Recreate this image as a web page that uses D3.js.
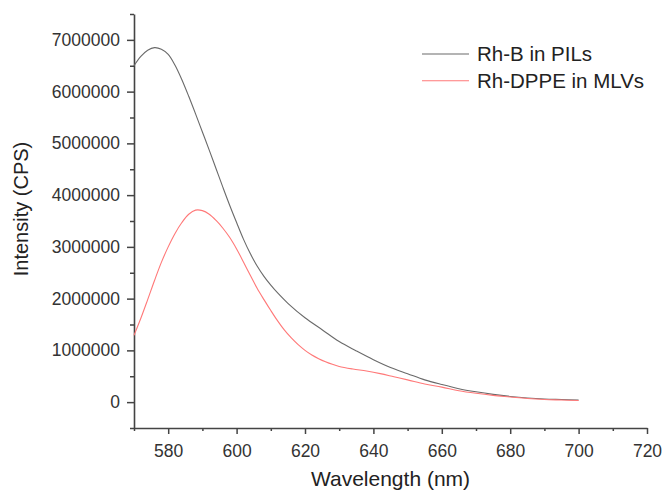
<!DOCTYPE html>
<html>
<head>
<meta charset="utf-8">
<script src="https://cdn.jsdelivr.net/npm/d3@7"></script>
<style>
  html, body { margin: 0; padding: 0; background: #fff; }
  svg { display: block; font-family: "Liberation Sans", Arial, sans-serif; }
</style>
</head>
<body>
<svg id="chart" width="663" height="491"></svg>
<script>
// ---- data ----
const wavelengthsRhB = [570, 572, 574, 576, 578, 580, 582, 584, 586, 588, 590, 592, 594, 596, 598, 600, 602, 604, 606, 608, 610, 612, 615, 620, 625, 630, 635, 640, 645, 650, 655, 660, 665, 670, 675, 680, 685, 690, 695, 700];
const intensityRhB = [6500000, 6680000, 6800000, 6850000, 6820000, 6720000, 6510000, 6230000, 5910000, 5570000, 5220000, 4870000, 4510000, 4150000, 3800000, 3470000, 3150000, 2870000, 2630000, 2430000, 2260000, 2110000, 1910000, 1630000, 1400000, 1170000, 990000, 820000, 670000, 550000, 430000, 340000, 260000, 200000, 150000, 110000, 80000, 60000, 50000, 40000];

const wavelengthsRhDPPE = [570, 572, 574, 576, 578, 580, 582, 584, 586, 588, 590, 592, 594, 596, 598, 600, 602, 604, 606, 608, 610, 612, 614, 616, 618, 620, 622, 624, 626, 628, 630, 634, 638, 642, 646, 650, 655, 660, 665, 670, 675, 680, 685, 690, 695, 700];
const intensityRhDPPE = [1290000, 1620000, 1980000, 2350000, 2700000, 3000000, 3260000, 3470000, 3630000, 3710000, 3700000, 3630000, 3510000, 3360000, 3180000, 2960000, 2710000, 2450000, 2200000, 1980000, 1770000, 1570000, 1390000, 1240000, 1110000, 1000000, 910000, 840000, 780000, 730000, 690000, 640000, 600000, 550000, 490000, 430000, 350000, 290000, 220000, 170000, 130000, 100000, 70000, 50000, 40000, 30000];

const seriesNames = ["Rh-B in PILs", "Rh-DPPE in MLVs"];
const seriesColors = ["#6a6a6a", "#ff7878"];

const xMajorTicks = [580, 600, 620, 640, 660, 680, 700, 720];
const xMinorTicks = [570, 590, 610, 630, 650, 670, 690, 710];
const yMajorTicks = [0, 1000000, 2000000, 3000000, 4000000, 5000000, 6000000, 7000000];
const yMinorTicks = [-500000, 500000, 1500000, 2500000, 3500000, 4500000, 5500000, 6500000, 7500000];

const xTitle = "Wavelength (nm)";
const yTitle = "Intensity (CPS)";

// ---- layout ----
const svg = d3.select("#chart");
const mLeft = 134, mRight = 647, mTop = 14, mBottom = 428;

const x = d3.scaleLinear().domain([570, 720]).range([mLeft, mRight]);
const y = d3.scaleLinear().domain([-500000, 7500000]).range([mBottom, mTop]);

const axisColor = "#444";
const textColor = "#333";

// x axis
const gx = svg.append("g").attr("transform", `translate(0,${mBottom})`);
gx.call(d3.axisBottom(x).tickValues(xMinorTicks).tickSize(3).tickFormat(""));
gx.call(g => g.select(".domain").remove());
const gx2 = svg.append("g").attr("transform", `translate(0,${mBottom})`);
gx2.call(d3.axisBottom(x).tickValues(xMajorTicks).tickSize(6).tickSizeOuter(0).tickPadding(6).tickFormat(d3.format("d")));
gx2.select(".domain").attr("stroke", axisColor).attr("stroke-width", 1.6);
gx2.selectAll("text").attr("font-size", "17.5px").attr("fill", textColor)
  .attr("font-family", "Liberation Sans, Arial, sans-serif").attr("dy", "0.95em");

// y axis
const gy = svg.append("g").attr("transform", `translate(${mLeft},0)`);
gy.call(d3.axisLeft(y).tickValues(yMinorTicks).tickSize(4).tickFormat(""));
gy.call(g => g.select(".domain").remove());
const gy2 = svg.append("g").attr("transform", `translate(${mLeft},0)`);
gy2.call(d3.axisLeft(y).tickValues(yMajorTicks).tickSize(7).tickSizeOuter(0).tickPadding(7).tickFormat(d3.format("d")));
gy2.select(".domain").attr("stroke", axisColor).attr("stroke-width", 1.6);
gy2.selectAll("text").attr("font-size", "17.5px").attr("fill", textColor)
  .attr("font-family", "Liberation Sans, Arial, sans-serif");

svg.selectAll(".tick line").attr("stroke", axisColor).attr("stroke-width", 1.5);

// axis titles
svg.append("text")
  .attr("x", (mLeft + mRight) / 2).attr("y", 486)
  .attr("text-anchor", "middle")
  .attr("font-size", "21px").attr("fill", "#222")
  .text(xTitle);
svg.append("text")
  .attr("transform", `translate(28,209) rotate(-90)`)
  .attr("text-anchor", "middle")
  .attr("font-size", "20px").attr("fill", "#222")
  .text(yTitle);

// lines
const line = d3.line().x(d => x(d[0])).y(d => y(d[1])).curve(d3.curveCatmullRom.alpha(0.5));
const dataRhB = wavelengthsRhB.map((w, i) => [w, intensityRhB[i]]);
const dataRhDPPE = wavelengthsRhDPPE.map((w, i) => [w, intensityRhDPPE[i]]);

svg.append("path").datum(dataRhB)
  .attr("fill", "none").attr("stroke", seriesColors[0]).attr("stroke-width", 1.1)
  .attr("d", line);
svg.append("path").datum(dataRhDPPE)
  .attr("fill", "none").attr("stroke", seriesColors[1]).attr("stroke-width", 1.1)
  .attr("d", line);

// legend
const legend = svg.append("g");
const legendY = [54, 80.7];
seriesNames.forEach((name, i) => {
  legend.append("line")
    .attr("x1", 422).attr("x2", 469)
    .attr("y1", legendY[i]).attr("y2", legendY[i])
    .attr("stroke", seriesColors[i]).attr("stroke-width", 1.1);
  legend.append("text")
    .attr("x", 477).attr("y", legendY[i])
    .attr("dy", "0.35em")
    .attr("font-size", "20.5px").attr("fill", "#222")
    .text(name);
});
</script>
</body>
</html>
